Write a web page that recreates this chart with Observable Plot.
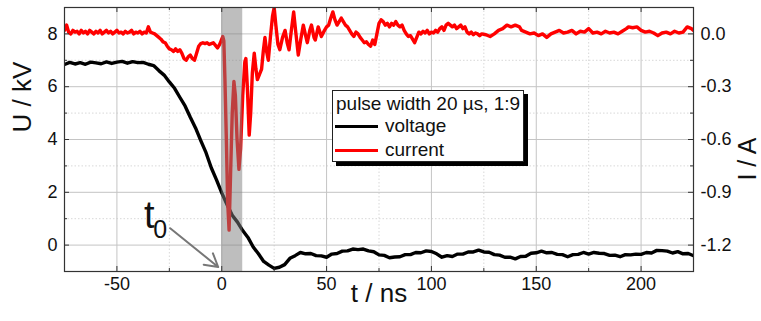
<!DOCTYPE html>
<html><head><meta charset="utf-8">
<script src="https://cdn.jsdelivr.net/npm/d3@7"></script>
<script src="https://cdn.jsdelivr.net/npm/@observablehq/plot@0.6"></script>
<style>
html,body{margin:0;padding:0;background:#fff;}
#wrap{position:relative;width:761px;height:321px;font-family:"Liberation Sans",Arial,sans-serif;}
#legend{position:absolute;left:332px;top:90px;width:190px;height:70px;border:1px solid #222;background:#fff;box-shadow:4px 4px 0 #000;font-size:19px;color:#111;}
#legend .t{position:absolute;left:3px;top:2px;white-space:nowrap;}
#legend .row{position:absolute;left:2px;height:22px;white-space:nowrap;}
#legend .sw{position:absolute;left:0;top:10px;width:43px;height:3px;}
#legend .lab{position:absolute;left:50px;top:0;}
</style></head>
<body>
<div id="wrap"></div>
<script>
// ---- data ----
const voltageTime = [-75,-72.5,-70,-67.5,-65,-62.5,-60,-57.5,-55,-52.5,-50,-47.5,-45,-42.5,-40,-37.5,-35,-32.5,-30,-27.5,-25,-22.5,-20,-17.5,-15,-12.5,-10,-7.5,-5,-2.5,0,2.5,5,7.5,10,12.5,15,17.5,20,22.5,25,27.5,30,32.5,35,37.5,40,42.5,45,47.5,50,52.5,55,57.5,60,62.5,65,67.5,70,72.5,75,77.5,80,82.5,85,87.5,90,92.5,95,97.5,100,102.5,105,107.5,110,112.5,115,117.5,120,122.5,125,127.5,130,132.5,135,137.5,140,142.5,145,147.5,150,152.5,155,157.5,160,162.5,165,167.5,170,172.5,175,177.5,180,182.5,185,187.5,190,192.5,195,197.5,200,202.5,205,207.5,210,212.5,215,217.5,220,222.5,225];
const voltageKV = [6.84,6.92,6.86,6.91,6.85,6.93,6.9,6.87,6.94,6.88,6.93,6.96,6.89,6.95,6.91,6.92,6.85,6.8,6.61,6.44,6.18,5.94,5.6,5.27,4.84,4.44,3.96,3.5,2.93,2.47,1.98,1.54,1.13,0.87,0.55,0.29,-0.07,-0.33,-0.62,-0.76,-0.88,-0.84,-0.74,-0.5,-0.4,-0.28,-0.33,-0.32,-0.4,-0.41,-0.46,-0.34,-0.32,-0.23,-0.22,-0.15,-0.17,-0.15,-0.22,-0.25,-0.37,-0.39,-0.48,-0.45,-0.44,-0.36,-0.36,-0.28,-0.29,-0.22,-0.24,-0.33,-0.46,-0.4,-0.43,-0.34,-0.34,-0.26,-0.26,-0.19,-0.26,-0.27,-0.36,-0.38,-0.46,-0.46,-0.52,-0.43,-0.42,-0.31,-0.29,-0.23,-0.29,-0.28,-0.35,-0.36,-0.44,-0.36,-0.35,-0.28,-0.34,-0.28,-0.31,-0.32,-0.39,-0.38,-0.44,-0.36,-0.37,-0.34,-0.35,-0.28,-0.3,-0.2,-0.21,-0.23,-0.3,-0.25,-0.33,-0.32,-0.4];

const currentTime = [-75,-74,-73,-72,-71,-70,-69,-68,-67,-66,-65,-64,-63,-62,-61,-60,-59,-58,-57,-56,-55,-54,-53,-52,-51,-50,-49,-48,-47,-46,-45,-44,-43,-42,-41,-40,-39,-38,-37,-36,-35,-34,-33,-32,-31,-30,-29,-28,-27,-26,-25,-24,-23,-22,-21,-20,-19,-18,-17,-16,-15,-14,-13,-12,-11,-10,-9,-8,-7,-6,-5,-4,-3,-2,-1,-0.5,0,0.5,1,1.5,2.2,2.8,3.5,4.2,5,5.8,6.5,7.3,8.2,9,10,11,11.5,12.2,13.1,13.8,14.6,15.5,16.3,17,18,19,19.8,20.6,21.4,22.2,23.2,24.2,25,25.8,26.8,27.7,29,30.2,31.2,32.1,33.2,34.3,35.3,36.5,37.7,38.9,40,40.8,42,42.8,44,44.6,46,47.5,49,50,51,52,53,54,55,56,57,58,59,60,61,62,63,64,65,66,67,68,69,70,71,72,73,74,75,76,77,78,79,80,81,82,83,84,85,86,87,88,89,90,91,92,93,94,95,96,97,98,99,100,101,102,103,104,105,106,107,108,109,110,111,112,113,114,115,116,117,118,119,120,121,122,123,124,126,128,130,132,134,136,138,140,142,143,145,147,149,151,153,155,157,159,161,163,165,167,169,171,173,175,177,179,181,183,185,187,189,191,193,194,196,198,200,202,204,206,208,210,212,214,216,218,220,222,224,225];
const currentA = [0.02,0.05,0.01,0.0,0.02,0.01,0.015,0.0,0.02,0.005,0.015,0.0,0.02,0.01,0.0,0.015,0.005,0.02,0.0,0.01,0.02,0.005,0.015,0.0,0.01,0.02,0.005,0.01,0.0,0.015,0.005,0.01,0.02,0.0,0.01,0.005,0.015,0.0,0.01,0.005,0.04,0.01,0.005,0.0,-0.01,-0.02,-0.03,-0.045,-0.05,-0.07,-0.085,-0.09,-0.1,-0.085,-0.1,-0.09,-0.11,-0.14,-0.15,-0.13,-0.12,-0.14,-0.15,-0.11,-0.07,-0.055,-0.05,-0.055,-0.05,-0.06,-0.055,-0.05,-0.065,-0.08,-0.06,-0.045,-0.03,-0.015,-0.04,-0.25,-0.6,-0.95,-1.115,-0.8,-0.45,-0.27,-0.35,-0.6,-0.77,-0.65,-0.35,-0.16,-0.14,-0.3,-0.575,-0.45,-0.22,-0.11,-0.2,-0.26,-0.23,-0.2,-0.1,-0.02,-0.1,-0.15,-0.02,0.1,0.15,0.05,-0.06,-0.09,-0.02,0.02,-0.05,-0.09,0.02,0.125,0.01,-0.12,-0.03,0.05,-0.01,-0.05,0.02,0.05,-0.02,-0.035,0.04,-0.015,0.02,0.04,0.05,0.09,0.125,0.08,0.05,0.07,0.09,0.07,0.05,0.04,0.02,0.0,-0.015,0.01,0.0,-0.02,-0.035,-0.05,-0.045,-0.06,-0.07,-0.035,-0.06,0.0,0.06,0.08,0.07,0.05,0.06,0.04,0.06,0.05,0.07,0.05,0.04,0.05,0.02,0.0,-0.015,-0.01,-0.03,-0.05,-0.02,0.01,0.0,0.015,0.005,0.02,0.0,0.01,0.005,0.02,0.01,0.03,0.04,0.02,0.05,0.06,0.05,0.04,0.05,0.03,0.04,0.05,0.03,0.04,0.01,0.0,0.01,-0.005,0.005,0.0,-0.01,0.0,-0.005,-0.015,0.0,0.02,0.03,0.05,0.04,0.05,0.04,0.02,0.01,0.0,0.005,-0.01,0.0,-0.02,0.0,0.01,0.02,0.005,0.01,0.02,0.0,0.015,0.01,0.03,0.005,0.01,0.0,0.015,0.005,0.01,0.0,0.015,0.03,0.04,0.035,0.04,0.02,0.01,0.015,0.005,-0.01,0.005,0.01,0.0,0.015,0.005,0.01,0.04,0.03,0.02];

const xMajorTicks = [-50, 0, 50, 100, 150, 200];
const xMinorTicks = [-75, -25, 25, 75, 125, 175, 225];
const uMajorTicks = [0, 2, 4, 6, 8];
const uMinorTicks = [-1, 1, 3, 5, 7, 9];
const iMajorTicks = [0.0, -0.3, -0.6, -0.9, -1.2];
const t0Band = [{start: 0, end: 10}];
const t0Label = [{x: -34.6, y: 0.64, sx: -29.4, sy: 0.28}];
const t0Arrow = [{x1: -24.6, y1: 0.64, x2: -1.7, y2: -0.83}];

// ---- derived (current mapped to the left scale: 0 A ↔ 8 kV, 0.3 A ↔ 2 kV) ----
const A_TO_KV = 2 / 0.3;
const toKV = a => 8 + a * A_TO_KV;
const voltage = voltageTime.map((t, i) => ({t, v: voltageKV[i]}));
const current = currentTime.map((t, i) => ({t, v: toKV(currentA[i])}));
const iTicksKV = iMajorTicks.map(toKV);
const iLabel = new Map(iMajorTicks.map(a => [toKV(a), a.toFixed(1)]));

const xDom = [-75, 225], yDom = [-1, 9];
const pxX = 300 / 629, pxY = 10 / 264; // data units per pixel

const plot = Plot.plot({
  width: 761, height: 321,
  marginLeft: 64, marginRight: 68, marginTop: 7, marginBottom: 50,
  x: {domain: xDom},
  y: {domain: yDom},
  style: {fontFamily: "Liberation Sans, Arial, sans-serif", fontSize: "18px", color: "#111", background: "white", overflow: "visible"},
  marks: [
    Plot.gridX(xMinorTicks, {stroke: "#d8d8d8", strokeOpacity: 1, strokeDasharray: "1.5,2"}),
    Plot.gridY(uMinorTicks, {stroke: "#d8d8d8", strokeOpacity: 1, strokeDasharray: "1.5,2"}),
    Plot.gridX(xMajorTicks, {stroke: "#c4c4c4", strokeOpacity: 1}),
    Plot.gridY(uMajorTicks, {stroke: "#c4c4c4", strokeOpacity: 1}),
    Plot.line(voltage, {x: "t", y: "v", stroke: "#000", strokeWidth: 3.4, strokeLinejoin: "round", clip: true}),
    Plot.line(current, {x: "t", y: "v", stroke: "#ff0000", strokeWidth: 3.4, strokeLinejoin: "round", clip: true}),
    Plot.rect(t0Band, {x1: "start", x2: "end", fill: "rgb(125,125,125)", fillOpacity: 0.5}),
    Plot.frame({stroke: "#333", strokeWidth: 1.2}),
    // inward tick marks
    Plot.ruleX(xMajorTicks, {x: d => d, y1: yDom[0], y2: yDom[0] + 5 * pxY, stroke: "#333"}),
    Plot.ruleX(xMinorTicks, {x: d => d, y1: yDom[0], y2: yDom[0] + 3 * pxY, stroke: "#333"}),
    Plot.ruleX(xMajorTicks, {x: d => d, y1: yDom[1] - 5 * pxY, y2: yDom[1], stroke: "#333"}),
    Plot.ruleX(xMinorTicks, {x: d => d, y1: yDom[1] - 3 * pxY, y2: yDom[1], stroke: "#333"}),
    Plot.ruleY(uMajorTicks, {y: d => d, x1: xDom[0], x2: xDom[0] + 5 * pxX, stroke: "#333"}),
    Plot.ruleY(uMinorTicks, {y: d => d, x1: xDom[0], x2: xDom[0] + 3 * pxX, stroke: "#333"}),
    Plot.ruleY(uMajorTicks, {y: d => d, x1: xDom[1] - 5 * pxX, x2: xDom[1], stroke: "#333"}),
    Plot.ruleY(uMinorTicks, {y: d => d, x1: xDom[1] - 3 * pxX, x2: xDom[1], stroke: "#333"}),
    Plot.axisX({ticks: xMajorTicks, tickSize: 0, tickPadding: 6, tickFormat: d => String(d), label: null, fontSize: 18}),
    Plot.axisY({anchor: "left", ticks: uMajorTicks, tickSize: 0, tickPadding: 7, tickFormat: d => String(d), label: null, fontSize: 18}),
    Plot.axisY({anchor: "right", ticks: iTicksKV, tickSize: 0, tickPadding: 7, tickFormat: d => iLabel.get(d), label: null, fontSize: 18}),
    Plot.text(["U / kV"], {frameAnchor: "left", dx: -42, dy: -7, rotate: -90, fontSize: 26, fill: "#111"}),
    Plot.text(["I / A"], {frameAnchor: "right", dx: 54, dy: -2, rotate: -90, fontSize: 25, fill: "#111"}),
    Plot.text(["t / ns"], {frameAnchor: "bottom", dy: 30, fontSize: 26, fill: "#111"}),
    Plot.arrow(t0Arrow, {x1: "x1", y1: "y1", x2: "x2", y2: "y2", stroke: "#777", strokeWidth: 2, headLength: 11, bend: 0}),
    Plot.text(t0Label, {x: "x", y: "y", text: () => "t", fontSize: 38, lineAnchor: "bottom", fill: "#111"}),
    Plot.text(t0Label, {x: "sx", y: "sy", text: () => "0", fontSize: 25, lineAnchor: "bottom", fill: "#111"})
  ]
});
const wrap = document.getElementById("wrap");
wrap.appendChild(plot);

const legend = document.createElement("div");
legend.id = "legend";
legend.innerHTML = `<div class="t">pulse width 20 µs, 1:9</div>
<div class="row" style="top:24px"><div class="sw" style="background:#000"></div><div class="lab">voltage</div></div>
<div class="row" style="top:48px"><div class="sw" style="background:#ff0000"></div><div class="lab">current</div></div>`;
wrap.appendChild(legend);
</script>
</body></html>
